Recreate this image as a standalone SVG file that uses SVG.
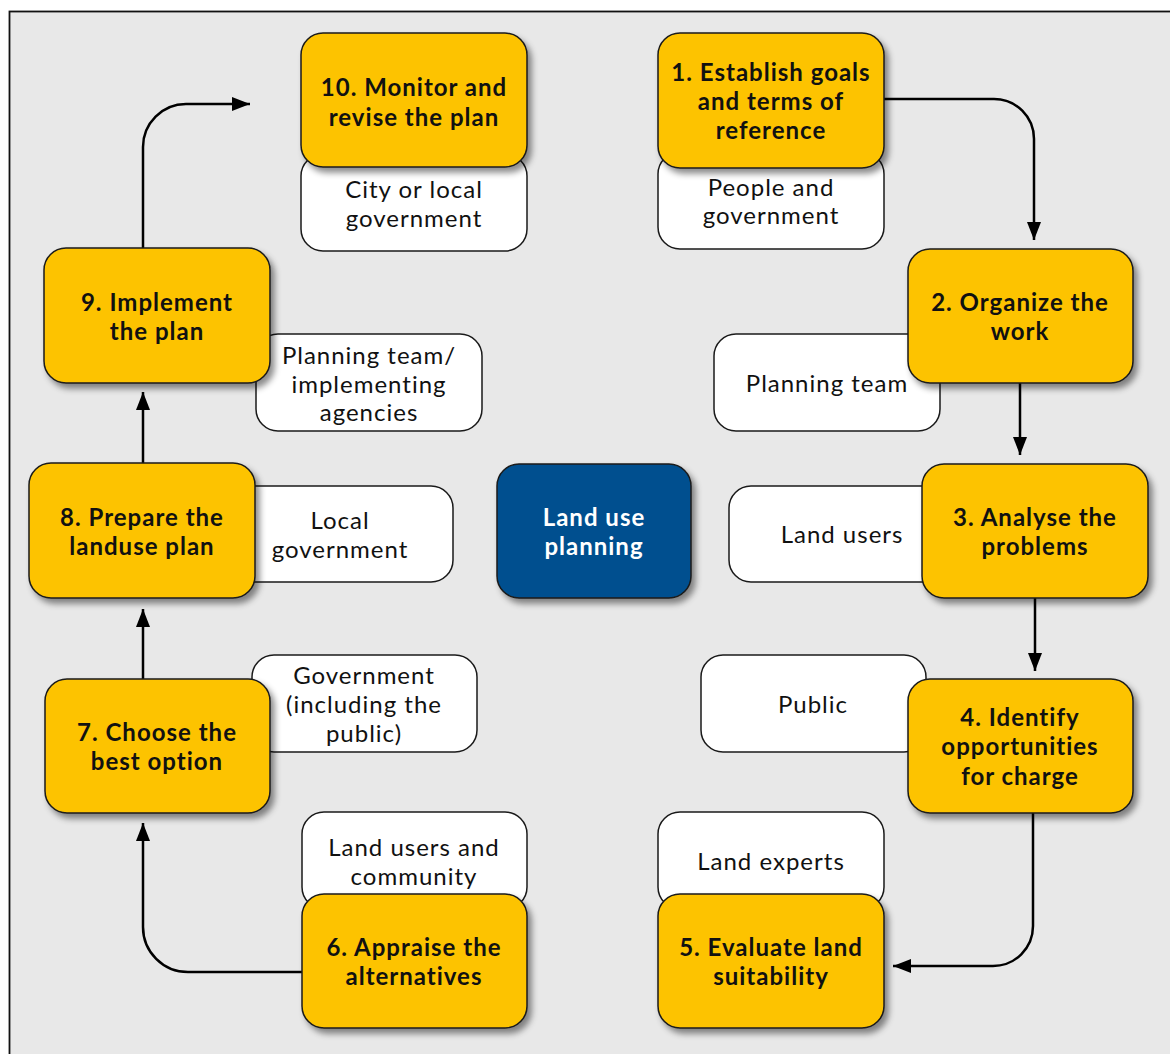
<svg xmlns="http://www.w3.org/2000/svg" width="1170" height="1054" viewBox="0 0 1170 1054">
  <style>
    text { font-family: Lato, "Open Sans", sans-serif; font-size: 24px; letter-spacing: 1px; text-anchor: middle; font-variant-ligatures: none; }
    .step rect { fill: #FDC300; stroke: #1a1a1a; stroke-width: 1.5; filter: url(#shadow); }
    .actor rect { fill: #ffffff; stroke: #1a1a1a; stroke-width: 1.5; }
    .core rect { fill: #00508F; stroke: #1a1a1a; stroke-width: 1.5; filter: url(#shadow); }
    .step text { font-weight: 700; fill: #111; }
    .actor text { font-weight: 400; fill: #111; }
    .core text { font-weight: 700; fill: #ffffff; }
    .link { fill: none; stroke: #000; stroke-width: 2.5; marker-end: url(#arrow); }
  </style>
  <defs>
    <filter id="shadow" x="-10%" y="-10%" width="130%" height="135%">
      <feDropShadow dx="4" dy="5" stdDeviation="3" flood-color="#000" flood-opacity="0.45"/>
    </filter>
    <marker id="arrow" markerUnits="userSpaceOnUse" markerWidth="20" markerHeight="16" refX="18" refY="7" orient="auto">
      <path d="M0,0 L18,7 L0,14 Z" fill="#000"/>
    </marker>
  </defs>

  <!-- page frame -->
  <rect x="0" y="0" width="1170" height="1054" fill="#ffffff"/>
  <rect x="9.5" y="11.5" width="1200" height="1100" fill="#E8E8E8" stroke="#111" stroke-width="1.8"/>

  <!-- connectors -->
  <g id="connectors">
    <path class="link" d="M884,99 H994 A40,40 0 0 1 1034,139 V240"/>
    <path class="link" d="M1020,383 V455"/>
    <path class="link" d="M1035,598 V671"/>
    <path class="link" d="M1033,813 V926 A40,40 0 0 1 993,966 H893"/>
    <path class="link" d="M302,972 H188 A45,45 0 0 1 143,927 V823"/>
    <path class="link" d="M143,679 V609"/>
    <path class="link" d="M143,463 V392"/>
    <path class="link" d="M143,248 V147 A43,43 0 0 1 186,104 H250"/>
  </g>

  <!-- who is involved at each step -->
  <g id="actor-10" class="actor">
    <rect x="301" y="154" width="226" height="97" rx="22"/>
    <text x="414" y="198">City or local</text>
    <text x="414" y="227">government</text>
  </g>
  <g id="actor-1" class="actor">
    <rect x="658" y="152" width="226" height="97" rx="22"/>
    <text x="771" y="196">People and</text>
    <text x="771" y="224">government</text>
  </g>
  <g id="actor-2" class="actor">
    <rect x="714" y="334" width="226" height="97" rx="22"/>
    <text x="827" y="392">Planning team</text>
  </g>
  <g id="actor-3" class="actor">
    <rect x="729" y="486" width="226" height="96" rx="22"/>
    <text x="842" y="543">Land users</text>
  </g>
  <g id="actor-4" class="actor">
    <rect x="701" y="655" width="225" height="97" rx="22"/>
    <text x="813" y="713">Public</text>
  </g>
  <g id="actor-5" class="actor">
    <rect x="658" y="812" width="226" height="97" rx="22"/>
    <text x="771" y="870">Land experts</text>
  </g>
  <g id="actor-6" class="actor">
    <rect x="302" y="812" width="225" height="97" rx="22"/>
    <text x="414" y="856">Land users and</text>
    <text x="414" y="885">community</text>
  </g>
  <g id="actor-7" class="actor">
    <rect x="252" y="655" width="225" height="97" rx="22"/>
    <text x="364" y="684">Government</text>
    <text x="364" y="713">(including the</text>
    <text x="364" y="742">public)</text>
  </g>
  <g id="actor-8" class="actor">
    <rect x="227" y="486" width="226" height="96" rx="22"/>
    <text x="340" y="529">Local</text>
    <text x="340" y="558">government</text>
  </g>
  <g id="actor-9" class="actor">
    <rect x="256" y="334" width="226" height="97" rx="22"/>
    <text x="369" y="364">Planning team/</text>
    <text x="369" y="393">implementing</text>
    <text x="369" y="421">agencies</text>
  </g>

  <!-- planning steps -->
  <g id="step-10" class="step">
    <rect x="301" y="33" width="226" height="134" rx="22"/>
    <text x="414" y="96">10. Monitor and</text>
    <text x="414" y="126">revise the plan</text>
  </g>
  <g id="step-1" class="step">
    <rect x="658" y="33" width="226" height="135" rx="22"/>
    <text x="771" y="81">1. Establish goals</text>
    <text x="771" y="110">and terms of</text>
    <text x="771" y="139">reference</text>
  </g>
  <g id="step-2" class="step">
    <rect x="908" y="249" width="225" height="134" rx="22"/>
    <text x="1020" y="311">2. Organize the</text>
    <text x="1020" y="340">work</text>
  </g>
  <g id="step-3" class="step">
    <rect x="922" y="464" width="226" height="134" rx="22"/>
    <text x="1035" y="526">3. Analyse the</text>
    <text x="1035" y="555">problems</text>
  </g>
  <g id="step-4" class="step">
    <rect x="908" y="679" width="225" height="134" rx="22"/>
    <text x="1020" y="726">4. Identify</text>
    <text x="1020" y="755">opportunities</text>
    <text x="1020" y="785">for charge</text>
  </g>
  <g id="step-5" class="step">
    <rect x="658" y="894" width="226" height="134" rx="22"/>
    <text x="771" y="956">5. Evaluate land</text>
    <text x="771" y="985">suitability</text>
  </g>
  <g id="step-6" class="step">
    <rect x="302" y="894" width="225" height="134" rx="22"/>
    <text x="414" y="956">6. Appraise the</text>
    <text x="414" y="985">alternatives</text>
  </g>
  <g id="step-7" class="step">
    <rect x="45" y="679" width="225" height="134" rx="22"/>
    <text x="157" y="741">7. Choose the</text>
    <text x="157" y="770">best option</text>
  </g>
  <g id="step-8" class="step">
    <rect x="29" y="463" width="226" height="135" rx="22"/>
    <text x="142" y="526">8. Prepare the</text>
    <text x="142" y="555">landuse plan</text>
  </g>
  <g id="step-9" class="step">
    <rect x="44" y="248" width="226" height="135" rx="22"/>
    <text x="157" y="311">9. Implement</text>
    <text x="157" y="340">the plan</text>
  </g>

  <!-- centre -->
  <g id="land-use-planning" class="core">
    <rect x="497" y="464" width="194" height="134" rx="22"/>
    <text x="594" y="526">Land use</text>
    <text x="594" y="555">planning</text>
  </g>
</svg>
